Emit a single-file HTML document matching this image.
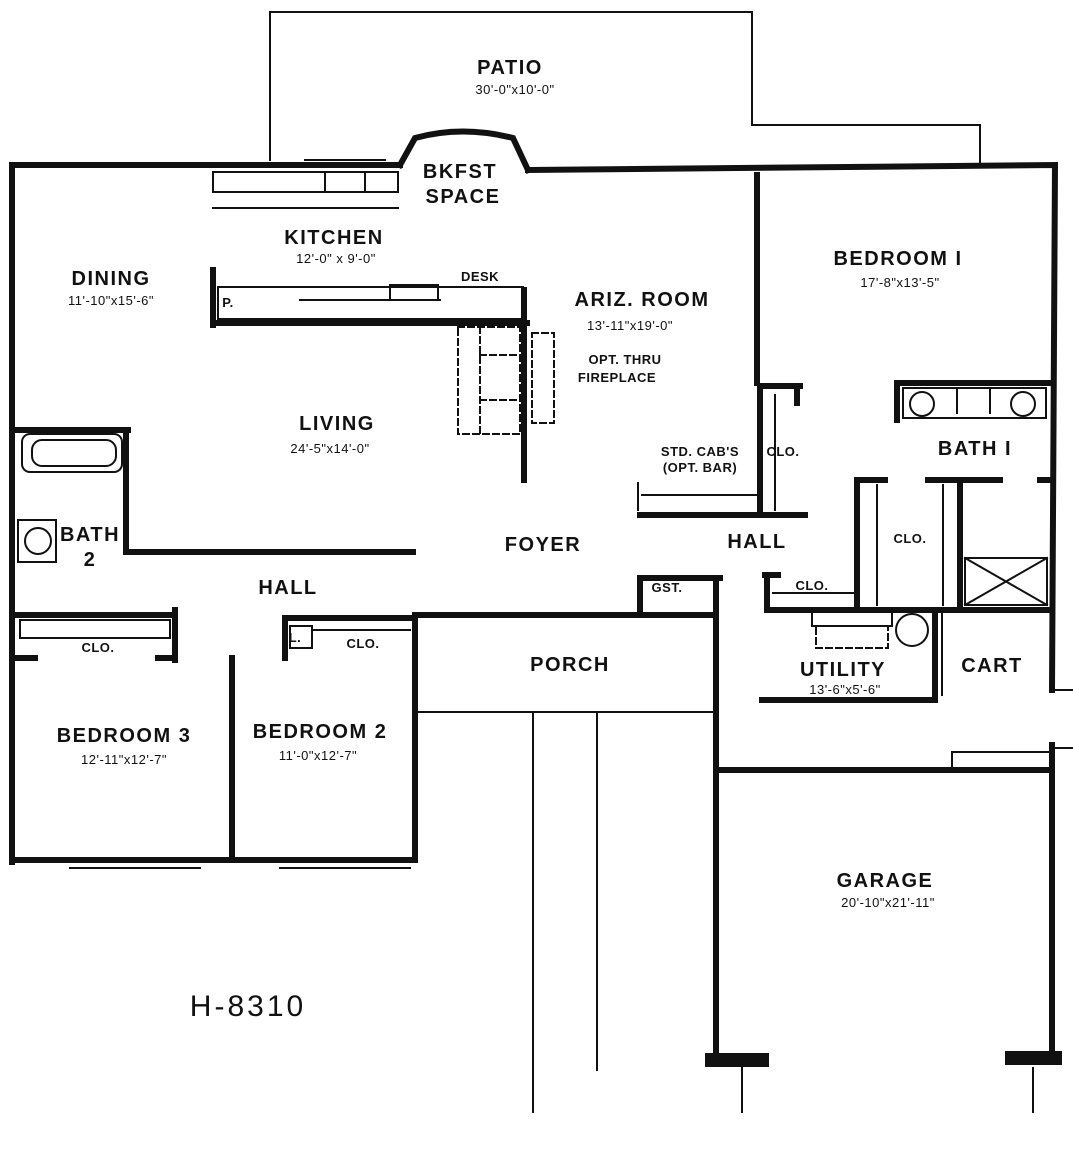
<!DOCTYPE html>
<html><head><style>
html,body{margin:0;padding:0;background:#fff;}
svg{display:block;}
text{font-family:"Liberation Sans",sans-serif;font-weight:bold;fill:#111;text-anchor:middle;}
.l{font-size:20px;letter-spacing:1.5px;}
.d{font-size:13px;letter-spacing:0.5px;font-weight:normal;}
.s{font-size:13px;letter-spacing:0.5px;}
</style></head><body>
<svg width="1073" height="1149" viewBox="0 0 1073 1149" xmlns="http://www.w3.org/2000/svg">
<g stroke="#111" fill="none" stroke-linecap="square">
<!-- patio thin lines -->
<g stroke-width="2">
<polyline points="270,160 270,12 752,12 752,125 980,125 980,165"/>
<!-- porch/driveway thin -->
<line x1="415" y1="712" x2="715" y2="712"/>
<line x1="533" y1="712" x2="533" y2="1112"/>
<line x1="597" y1="712" x2="597" y2="1070"/>
<line x1="742" y1="1068" x2="742" y2="1112"/>
<line x1="1033" y1="1068" x2="1033" y2="1112"/>
<line x1="1052" y1="690" x2="1073" y2="690"/>
<line x1="1052" y1="748" x2="1073" y2="748"/>
</g>
<!-- outer walls -->
<g stroke-width="6">
<polyline points="12,165 400,165"/>
<path d="M400,165 L415,138 Q462,125 513,138 L528,170"/>
<polyline points="528,170 1055,165 1052,690"/>
<line x1="1052" y1="745" x2="1052" y2="1062"/>
<line x1="12" y1="165" x2="12" y2="862"/>
<line x1="12" y1="860" x2="415" y2="860"/>
<line x1="415" y1="615" x2="415" y2="860"/>
<line x1="415" y1="615" x2="715" y2="615"/>
<line x1="716" y1="578" x2="716" y2="1062"/>
<line x1="716" y1="770" x2="1052" y2="770"/>
<line x1="757" y1="175" x2="757" y2="383"/>
<!-- interior walls -->
<line x1="213" y1="323" x2="527" y2="323"/>
<line x1="213" y1="270" x2="213" y2="325"/>
<line x1="524" y1="290" x2="524" y2="480"/>
<line x1="15" y1="430" x2="128" y2="430"/>
<line x1="126" y1="430" x2="126" y2="552"/>
<line x1="126" y1="552" x2="413" y2="552"/>
<line x1="15" y1="615" x2="175" y2="615"/>
<line x1="175" y1="610" x2="175" y2="660"/>
<line x1="15" y1="658" x2="35" y2="658"/>
<line x1="158" y1="658" x2="175" y2="658"/>
<line x1="232" y1="658" x2="232" y2="860"/>
<line x1="285" y1="618" x2="285" y2="658"/>
<line x1="285" y1="618" x2="415" y2="618"/>
<line x1="640" y1="578" x2="640" y2="612"/>
<line x1="640" y1="578" x2="720" y2="578"/>
<line x1="762" y1="386" x2="800" y2="386"/>
<line x1="797" y1="386" x2="797" y2="403"/>
<line x1="760" y1="386" x2="760" y2="515"/>
<line x1="640" y1="515" x2="805" y2="515"/>
<line x1="897" y1="383" x2="1048" y2="383"/>
<line x1="897" y1="383" x2="897" y2="420"/>
<line x1="857" y1="480" x2="885" y2="480"/>
<line x1="857" y1="480" x2="857" y2="608"/>
<line x1="928" y1="480" x2="1000" y2="480"/>
<line x1="960" y1="480" x2="960" y2="608"/>
<line x1="1040" y1="480" x2="1050" y2="480"/>
<line x1="765" y1="575" x2="778" y2="575"/>
<line x1="767" y1="575" x2="767" y2="610"/>
<line x1="767" y1="610" x2="1050" y2="610"/>
<line x1="935" y1="612" x2="935" y2="700"/>
<line x1="762" y1="700" x2="935" y2="700"/>
</g>
<g stroke-width="14">
<line x1="712" y1="1060" x2="762" y2="1060"/>
<line x1="1012" y1="1058" x2="1055" y2="1058"/>
</g>
<!-- fixtures thin -->
<g stroke-width="2">
<rect x="213" y="172" width="185" height="20"/>
<line x1="213" y1="208" x2="398" y2="208"/>
<rect x="325" y="172" width="40" height="20"/>
<rect x="218" y="287" width="305" height="32"/>
<rect x="390" y="285" width="48" height="15"/>
<line x1="300" y1="300" x2="440" y2="300"/>
<rect x="458" y="327" width="62" height="107" stroke-dasharray="6,4"/>
<line x1="480" y1="327" x2="480" y2="434" stroke-dasharray="6,4"/>
<line x1="480" y1="355" x2="520" y2="355" stroke-dasharray="6,4"/>
<line x1="480" y1="400" x2="520" y2="400" stroke-dasharray="6,4"/>
<rect x="532" y="333" width="22" height="90" stroke-dasharray="6,4"/>
<rect x="22" y="434" width="100" height="38" rx="8"/>
<rect x="32" y="440" width="84" height="26" rx="10"/>
<rect x="18" y="520" width="38" height="42"/>
<circle cx="38" cy="541" r="13"/>
<rect x="20" y="620" width="150" height="18"/>
<rect x="290" y="626" width="22" height="22"/>
<line x1="312" y1="630" x2="410" y2="630"/>
<line x1="638" y1="483" x2="638" y2="510"/>
<line x1="642" y1="495" x2="757" y2="495"/>
<line x1="775" y1="395" x2="775" y2="510"/>
<rect x="903" y="388" width="143" height="30"/>
<circle cx="922" cy="404" r="12"/>
<circle cx="1023" cy="404" r="12"/>
<line x1="957" y1="388" x2="957" y2="413"/>
<line x1="990" y1="388" x2="990" y2="413"/>
<line x1="877" y1="485" x2="877" y2="605"/>
<line x1="943" y1="485" x2="943" y2="605"/>
<rect x="965" y="558" width="82" height="47"/>
<line x1="965" y1="558" x2="1047" y2="605"/>
<line x1="1047" y1="558" x2="965" y2="605"/>
<line x1="773" y1="593" x2="855" y2="593"/>
<rect x="812" y="612" width="80" height="14"/>
<rect x="816" y="626" width="72" height="22" stroke-dasharray="6,4"/>
<circle cx="912" cy="630" r="16"/>
<line x1="942" y1="612" x2="942" y2="695"/>
<rect x="952" y="752" width="98" height="16"/>
<line x1="70" y1="868" x2="200" y2="868"/>
<line x1="280" y1="868" x2="410" y2="868"/>
<line x1="305" y1="160" x2="385" y2="160"/>
</g>
</g>
<text class="l" x="510" y="74">PATIO</text>
<text class="d" x="515" y="94">30'-0"x10'-0"</text>
<text class="l" x="460" y="178">BKFST</text>
<text class="l" x="463" y="203">SPACE</text>
<text class="l" x="334" y="244">KITCHEN</text>
<text class="d" x="336" y="263">12'-0" x 9'-0"</text>
<text class="s" x="480" y="281">DESK</text>
<text class="l" x="111" y="285">DINING</text>
<text class="d" x="111" y="305">11'-10"x15'-6"</text>
<text class="s" x="228" y="307">P.</text>
<text class="l" x="642" y="306">ARIZ. ROOM</text>
<text class="d" x="630" y="330">13'-11"x19'-0"</text>
<text class="s" x="625" y="364">OPT. THRU</text>
<text class="s" x="617" y="382">FIREPLACE</text>
<text class="l" x="898" y="265">BEDROOM I</text>
<text class="d" x="900" y="287">17'-8"x13'-5"</text>
<text class="l" x="337" y="430">LIVING</text>
<text class="d" x="330" y="453">24'-5"x14'-0"</text>
<text class="s" x="700" y="456">STD. CAB'S</text>
<text class="s" x="700" y="472">(OPT. BAR)</text>
<text class="s" x="783" y="456">CLO.</text>
<text class="l" x="975" y="455">BATH I</text>
<text class="l" x="90" y="541">BATH</text>
<text class="l" x="90" y="566">2</text>
<text class="l" x="543" y="551">FOYER</text>
<text class="l" x="757" y="548">HALL</text>
<text class="s" x="910" y="543">CLO.</text>
<text class="l" x="288" y="594">HALL</text>
<text class="s" x="667" y="592">GST.</text>
<text class="s" x="812" y="590">CLO.</text>
<text class="s" x="98" y="652">CLO.</text>
<text class="s" x="295" y="642">L.</text>
<text class="s" x="363" y="648">CLO.</text>
<text class="l" x="570" y="671">PORCH</text>
<text class="l" x="843" y="676">UTILITY</text>
<text class="d" x="845" y="694">13'-6"x5'-6"</text>
<text class="l" x="992" y="672">CART</text>
<text class="l" x="124" y="742">BEDROOM 3</text>
<text class="d" x="124" y="764">12'-11"x12'-7"</text>
<text class="l" x="320" y="738">BEDROOM 2</text>
<text class="d" x="318" y="760">11'-0"x12'-7"</text>
<text class="l" x="885" y="887">GARAGE</text>
<text class="d" x="888" y="907">20'-10"x21'-11"</text>
<text x="248" y="1016" style="font-size:30px;font-weight:normal;letter-spacing:3px;">H-8310</text>
</svg>
</body></html>
